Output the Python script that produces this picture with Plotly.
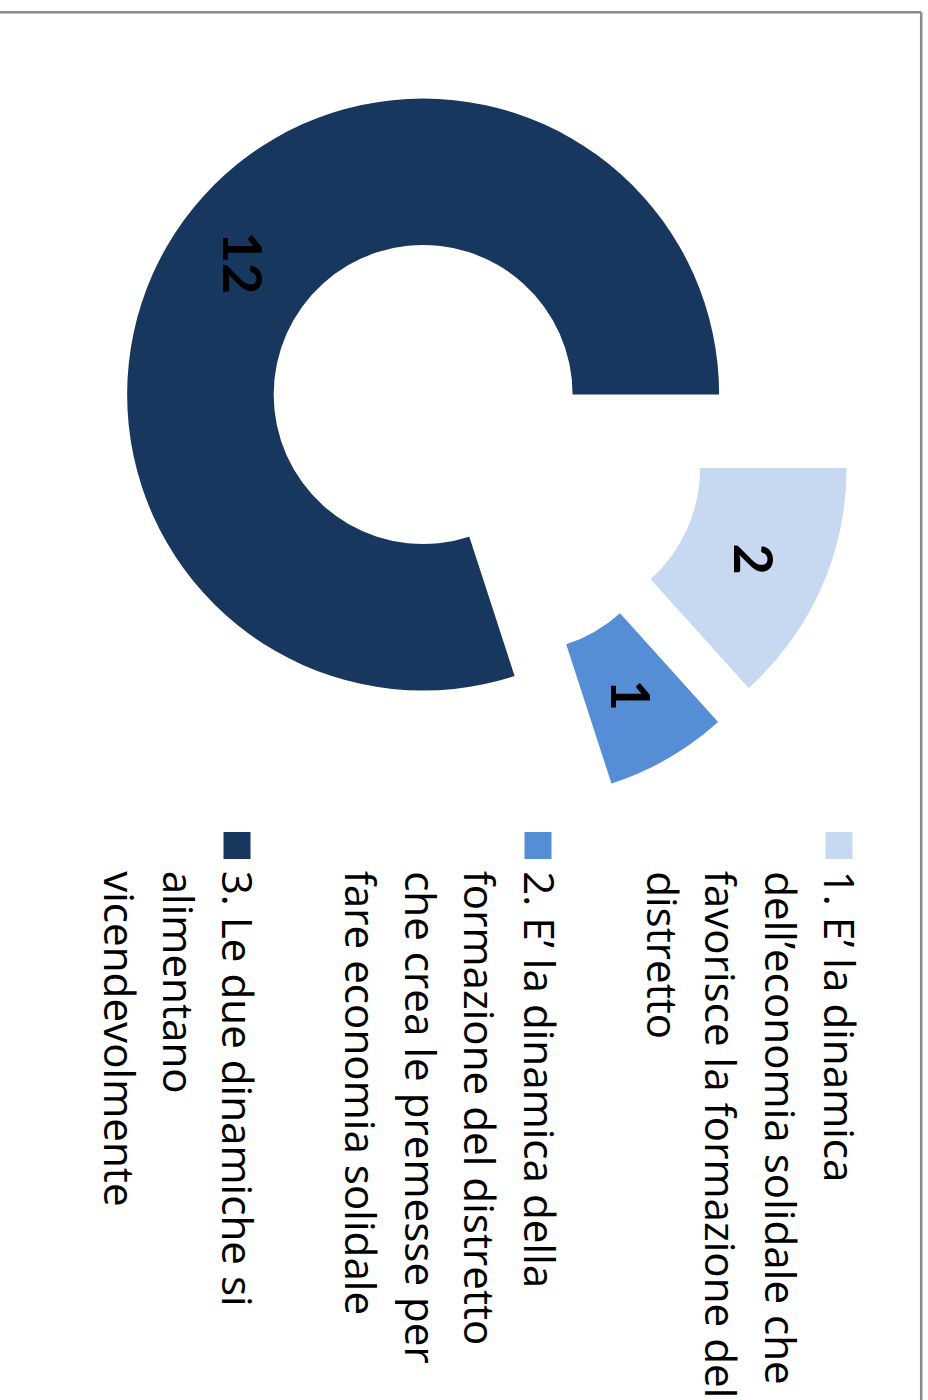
import math
import plotly.graph_objects as go

# Series data
categories = [
    "1. E’ la dinamica<br>dell’economia solidale che<br>favorisce la formazione del<br>distretto",
    "2. E’ la dinamica della<br>formazione del distretto<br>che crea le premesse per<br>fare economia solidale",
    "3. Le due dinamiche si<br>alimentano<br>vicendevolmente",
]
values = [2, 1, 12]
colors = ["#C6D9F1", "#558ED5", "#17375E"]

# Canvas and layout constants (pixels)
W, H = 928, 1400
PULL = 0.25
HOLE = 0.505
ROTATION = 90
DOM_X = (113, 853)          # pie domain, px from left
DOM_Y = (68, 808)           # pie domain, px from top
LABEL_FONT = "Lato"
LEG_FONT = "Open Sans"
LEG_SIZE = 42.2
LEG_FIRST_BASE = 825        # baseline (px) of the first legend entry
LEG_ENTRY_STEP = 301        # distance between legend entries
LEG_LINE_STEP = 59.5        # distance between wrapped lines
LEG_TEXT_TOP = 869
LEG_BOX = (832, 859)        # legend square, px from top
LEG_BOX_SIZE = 27


def px_x(v):
    return v / W


def px_y(v):
    return 1 - v / H


fig = go.Figure(
    go.Pie(
        values=values,
        labels=[c.split("<br>")[0] for c in categories],
        marker=dict(colors=colors, line=dict(width=0)),
        hole=HOLE,
        pull=[PULL] * len(values),
        rotation=ROTATION,
        direction="clockwise",
        sort=False,
        textinfo="none",
        hoverinfo="label+value",
        showlegend=False,
        domain=dict(x=[px_x(DOM_X[0]), px_x(DOM_X[1])],
                    y=[px_y(DOM_Y[1]), px_y(DOM_Y[0])]),
    )
)

annotations = []
shapes = []

# Slice value labels, placed mid-ring along each slice's bisector
R = min(DOM_X[1] - DOM_X[0], DOM_Y[1] - DOM_Y[0]) / (2 + 2 * PULL)
cx = (DOM_X[0] + DOM_X[1]) / 2
cy = (DOM_Y[0] + DOM_Y[1]) / 2
total = sum(values)
cum = 0
for v in values:
    mid = math.radians(ROTATION + 360 * (cum + v / 2) / total)
    cum += v
    rr = PULL * R + (1 + HOLE) / 2 * R
    lx = cx + rr * math.sin(mid)
    ly = cy - rr * math.cos(mid)
    annotations.append(dict(
        x=px_x(lx), y=px_y(ly), xref="paper", yref="paper",
        text=str(v), showarrow=False, textangle=90,
        xanchor="center", yanchor="middle",
        font=dict(family=LABEL_FONT, size=54, color="black", weight="bold"),
    ))

# Legend, rotated a quarter turn
for k, (cat, col) in enumerate(zip(categories, colors)):
    base = LEG_FIRST_BASE - k * LEG_ENTRY_STEP
    shapes.append(dict(
        type="rect", xref="paper", yref="paper",
        x0=px_x(base + 0.5), x1=px_x(base + 0.5 + LEG_BOX_SIZE),
        y0=px_y(LEG_BOX[1]), y1=px_y(LEG_BOX[0]),
        fillcolor=col, line=dict(width=0),
    ))
    for j, line in enumerate(cat.split("<br>")):
        xb = base - j * LEG_LINE_STEP + 0.388 * LEG_SIZE
        annotations.append(dict(
            x=px_x(xb), y=px_y(LEG_TEXT_TOP), xref="paper", yref="paper",
            text=line, showarrow=False, textangle=90,
            xanchor="center", yanchor="top", align="left",
            font=dict(family=LEG_FONT, size=LEG_SIZE, color="black"),
        ))

# Chart-area frame (top and right edges)
frame = dict(color="#8A8A8A", width=2.5)
shapes.append(dict(type="line", xref="paper", yref="paper",
                   x0=0, x1=px_x(921.2), y0=px_y(12.3), y1=px_y(12.3), line=frame))
shapes.append(dict(type="line", xref="paper", yref="paper",
                   x0=px_x(921.2), x1=px_x(921.2), y0=px_y(12.3), y1=0, line=frame))

fig.update_layout(
    width=W, height=H,
    margin=dict(l=0, r=0, t=0, b=0),
    paper_bgcolor="white", plot_bgcolor="white",
    annotations=annotations, shapes=shapes,
    showlegend=False,
)

fig.write_html("out.html")
